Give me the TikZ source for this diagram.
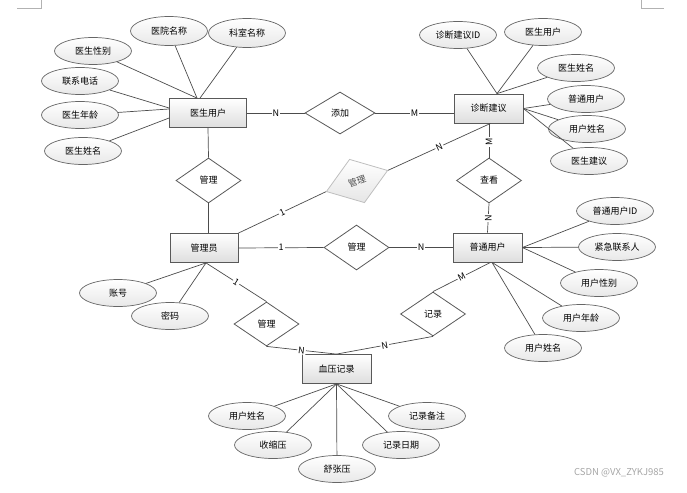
\documentclass[tikz,border=0pt]{standalone}
\usepackage{fontspec}
\setmainfont{Noto Sans CJK SC}
\usetikzlibrary{shapes.geometric,calc}
\begin{document}
\begin{tikzpicture}[x=1pt,y=-1pt,
  every node/.style={font=\fontsize{9}{10}\selectfont, inner sep=0pt},
  ent/.style={draw=black!65, line width=0.8pt, top color=white, bottom color=black!13, minimum width=69pt, minimum height=29pt},
  rel/.style={diamond, draw=black!65, line width=0.8pt, fill=white, minimum width=65pt, minimum height=45pt},
  attr/.style={ellipse, draw=black!60, line width=0.7pt, top color=white, bottom color=black!9, minimum width=77pt, minimum height=27pt},
  conn/.style={draw=black!70, line width=0.7pt},
  card/.style={fill=white, inner sep=1pt, font=\fontsize{9}{10}\selectfont},
]
\useasboundingbox (0,0) rectangle (687,492);
\draw[black!30, line width=0.6pt] (17,8) -- (41,8) -- (41,0);
\draw[black!30, line width=0.6pt] (641,0) -- (641,8) -- (664,8);

% entities
\node[ent, minimum width=77pt] (doc) at (208,113) {医生用户};
\node[ent] (sug) at (488.5,108.5) {诊断建议};
\node[ent, minimum width=68pt] (adm) at (204,248) {管理员};
\node[ent] (usr) at (487.5,247.5) {普通用户};
\node[ent] (bp) at (336.5,369) {血压记录};

% relationships
\node[rel, minimum width=70pt, minimum height=42pt] (add) at (340,113) {添加};
\node[rel] (m1) at (208.5,180.5) {管理};
\node[rel, rotate=19, draw=black!25, top color=white, bottom color=black!10, minimum width=65pt, minimum height=46pt, text=black!70] (m2) at (357,181) {管理};
\node[rel] (look) at (489,180.5) {查看};
\node[rel] (m3) at (356.5,247.5) {管理};
\node[rel, minimum height=44pt] (m4) at (266.5,324) {管理};
\node[rel, minimum height=44pt] (rec) at (433,314) {记录};

% attributes of 医生用户
\node[attr] (d1) at (93,51) {医生性别};
\node[attr, minimum height=29pt] (d2) at (169,31) {医院名称};
\node[attr, minimum height=29pt] (d3) at (247,33) {科室名称};
\node[attr] (d4) at (80,81) {联系电话};
\node[attr] (d5) at (80,115) {医生年龄};
\node[attr] (d6) at (83,151) {医生姓名};
% attributes of 诊断建议
\node[attr] (s1) at (458,35) {诊断建议ID};
\node[attr] (s2) at (543,32) {医生用户};
\node[attr] (s3) at (576,68) {医生姓名};
\node[attr] (s4) at (586,99) {普通用户};
\node[attr] (s5) at (587,129) {用户姓名};
\node[attr] (s6) at (589,161) {医生建议};
% attributes of 普通用户
\node[attr] (u1) at (615,211) {普通用户ID};
\node[attr] (u2) at (617,247) {紧急联系人};
\node[attr] (u3) at (599,283) {用户性别};
\node[attr] (u4) at (581,318) {用户年龄};
\node[attr] (u5) at (543,348) {用户姓名};
% attributes of 管理员
\node[attr] (a1) at (118,293) {账号};
\node[attr] (a2) at (170,316) {密码};
% attributes of 血压记录
\node[attr] (b1) at (247,416) {用户姓名};
\node[attr] (b2) at (273,445) {收缩压};
\node[attr] (b3) at (337,469) {舒张压};
\node[attr] (b4) at (401,445) {记录日期};
\node[attr] (b5) at (427,416) {记录备注};

% attribute connectors
\draw[conn] (d1) -- ($(doc.north)+(-11,0)$);
\draw[conn] (d2) -- ($(doc.north)+(-11,0)$);
\draw[conn] (d3) -- ($(doc.north)+(-8,0)$);
\draw[conn] (d4) -- ($(doc.west)+(0,-5)$);
\draw[conn] (d5) -- ($(doc.west)+(0,-4)$);
\draw[conn] (d6) -- ($(doc.west)+(0,5)$);

\draw[conn] (s1) -- ($(sug.north)+(8.5,0)$);
\draw[conn] (s2) -- ($(sug.north)+(8.5,0)$);
\draw[conn] (s3) -- ($(sug.north)+(8.5,0)$);
\draw[conn] (s4) -- (sug.east);
\draw[conn] (s5) -- (sug.east);
\draw[conn] (s6) -- (sug.east);

\draw[conn] (u1) -- (usr.east);
\draw[conn] (u2) -- (usr.east);
\draw[conn] (u3) -- (usr.east);
\draw[conn] (u4) -- ($(usr.south)+(4.5,0)$);
\draw[conn] (u5) -- ($(usr.south)+(4.5,0)$);

\draw[conn] (a1) -- ($(adm.south)+(2,0)$);
\draw[conn] (a2) -- ($(adm.south)+(2,0)$);

\foreach \b in {b1,b2,b3,b4,b5} \draw[conn] (\b) -- (bp.south);

% relationship connectors
\draw[conn] (doc.east) -- node[card]{N} (add.west);
\draw[conn] (add.east) -- node[card]{M} (add.east -| sug.west);
\draw[conn] (doc.south) -- (m1.north);
\draw[conn] (m1.south) -- (m1.south |- adm.north);
\draw[conn] (adm.east) -- node[card]{1} (m3.west);
\draw[conn] (m3.east) -- node[card]{N} (usr.west);
\draw[conn] (adm.north east) -- node[card,sloped]{1} (m2.west);
\draw[conn] (m2.east) -- node[card,sloped]{N} ($(sug.south)+(2,0)$);
\draw[conn] (look.north) -- node[card,rotate=90,pos=0.46]{M} (look.north |- sug.south);
\draw[conn] (usr.north) -- node[card,rotate=90]{N} (look.south);
\draw[conn] ($(adm.south)+(2,0)$) -- node[card,sloped]{1} (m4.north);
\draw[conn] (m4.south) -- node[card,sloped]{N} (bp.north);
\draw[conn] (rec.south) -- node[card,sloped]{N} (bp.north);
\draw[conn] ($(usr.south)+(3,0)$) -- node[card,sloped]{M} (rec.north);

% watermark
\node[text=black!35, font=\fontsize{9.5}{10}\selectfont] (wm) at (619,473) {CSDN @VX\_ZYKJ985};
\end{tikzpicture}
\end{document}
